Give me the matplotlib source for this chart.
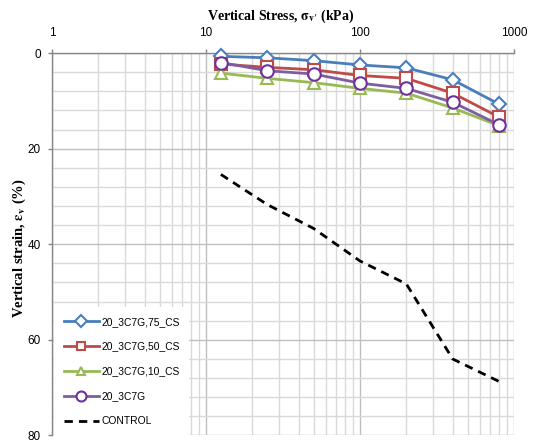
import matplotlib
matplotlib.use("Agg")
import matplotlib.pyplot as plt
from matplotlib.ticker import FixedLocator, NullFormatter, LogLocator
from matplotlib.lines import Line2D

plt.rcParams["mathtext.fontset"] = "stix"

# Consolidation test data: vertical stress (kPa) vs vertical strain (%)
stress = [12.5, 25, 50, 100, 200, 400, 800]
strain_75cs = [0.7, 1.0, 1.6, 2.5, 3.1, 5.6, 10.7]
strain_50cs = [2.3, 3.0, 3.5, 4.7, 5.3, 8.4, 13.4]
strain_10cs = [4.2, 5.3, 6.2, 7.4, 8.4, 11.5, 15.2]
strain_3c7g = [2.0, 3.7, 4.4, 6.3, 7.4, 10.3, 15.0]
strain_control = [25.4, 31.7, 36.7, 43.5, 48.3, 64.0, 68.7]

labels = ["20_3C7G,75_CS", "20_3C7G,50_CS", "20_3C7G,10_CS", "20_3C7G", "CONTROL"]
x_ticks = [1, 10, 100, 1000]
y_ticks = [0, 20, 40, 60, 80]

fig = plt.figure(figsize=(5.35, 4.41), dpi=100)
ax = fig.add_axes([0.0972, 0.0125, 0.8635, 0.8673])

ax.set_xscale("log")
ax.set_xlim(1, 1000)
ax.set_ylim(80, 0)

sans = "Liberation Sans"
serif = "Liberation Serif"

# grid
ax.xaxis.set_major_locator(FixedLocator(x_ticks))
ax.xaxis.set_minor_locator(LogLocator(base=10, subs=range(2, 10)))
ax.xaxis.set_minor_formatter(NullFormatter())
ax.yaxis.set_major_locator(FixedLocator(y_ticks))
ax.yaxis.set_minor_locator(FixedLocator(list(range(0, 81, 4))))
ax.grid(which="major", color="#BFBFBF", linewidth=1.0, zorder=0)
ax.grid(which="minor", color="#D9D9D9", linewidth=1.0, zorder=0)
ax.set_axisbelow(True)

ax.xaxis.tick_top()
ax.tick_params(axis="both", which="major", length=3, width=1, color="#868686",
               labelsize=8.5, pad=5)
ax.tick_params(axis="both", which="minor", length=0)
ax.set_xticklabels([str(v) for v in x_ticks], fontfamily=sans)
ax.set_yticklabels([str(v) for v in y_ticks], fontfamily=sans)
ax.tick_params(axis="x", pad=7)

for side in ["left", "top"]:
    ax.spines[side].set_color("#868686")
    ax.spines[side].set_linewidth(1.0)
for side in ["right", "bottom"]:
    ax.spines[side].set_visible(False)

series = [
    (strain_75cs, "#4A7EBB", "D", 7.5, "#4A7EBB"),
    (strain_50cs, "#BE4B48", "s", 8, "#BE4B48"),
    (strain_10cs, "#98B954", "^", 8, "#98B954"),
    (strain_3c7g, "#7D5FA0", "o", 9, "#7030A0"),
]
handles = []
for (vals, col, mk, ms, edge), lab in zip(series, labels):
    ax.plot(stress, vals, color=col, linewidth=2.0, marker=mk, markersize=ms,
            markerfacecolor="white", markeredgecolor=edge, markeredgewidth=1.5,
            zorder=3, clip_on=False)
    handles.append(Line2D([], [], color=col, linewidth=2.0, marker=mk,
                          markersize=ms * 0.8, markerfacecolor="white",
                          markeredgecolor=edge, markeredgewidth=1.5))

ax.plot(stress, strain_control, color="black", linewidth=2.0,
        dashes=(3.0, 2.2), zorder=3)
handles.append(Line2D([], [], color="black", linewidth=2.0, dashes=(3.0, 2.2)))

leg = ax.legend(handles, labels, loc="lower left", bbox_to_anchor=(0.005, 0.0),
                frameon=True, fancybox=False, framealpha=1.0, edgecolor="white",
                prop={"family": sans, "size": 7.4}, handlelength=3.4,
                labelspacing=1.45, borderpad=0.9, handletextpad=0.3,
                borderaxespad=0.0)
leg.get_frame().set_linewidth(0)

fig.text(0.525, 0.963,
         r"Vertical Stress, $\mathbf{\sigma}_{\mathbf{v\prime}}$ (kPa)",
         ha="center", va="center", fontsize=10, fontweight="bold",
         fontfamily=serif)
fig.text(0.036, 0.438, r"Vertical strain, $\mathbf{\varepsilon}_{\mathbf{v}}$ (%)",
         ha="center", va="center", rotation=90, fontsize=10.5,
         fontweight="bold", fontfamily=serif)

fig.savefig("out.png", dpi=100)
